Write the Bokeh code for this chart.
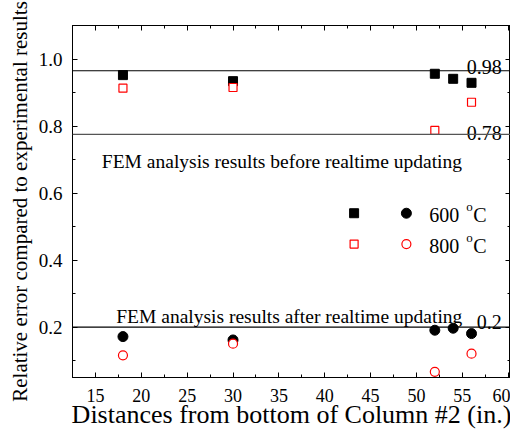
from bokeh.plotting import figure
from bokeh.models import Range1d, Span, LinearAxis, SingleIntervalTicker, PrintfTickFormatter, CustomJSTickFormatter
from bokeh.embed import file_html
from bokeh.resources import INLINE
from bokeh.core.properties import value

# Data
dist_sq600 = [18, 30, 52, 54, 56]
fem_before_600 = [0.952, 0.934, 0.956, 0.941, 0.929]
dist_sq800 = [18, 30, 52, 56]
fem_before_800 = [0.913, 0.915, 0.787, 0.871]
dist_c600 = [18, 30, 52, 54, 56]
fem_after_600 = [0.172, 0.162, 0.191, 0.197, 0.181]
dist_c800 = [18, 30, 52, 56]
fem_after_800 = [0.116, 0.151, 0.067, 0.121]

ref_lines = [0.965, 0.775, 0.2]
ref_labels = ["0.98", "0.78", "0.2"]
ref_label_y = [0.977, 0.78, 0.215]

x_title = "Distances from bottom of Column #2 (in.)"
y_title = "Relative error compared to experimental results"

FONT = "Liberation Serif"
AXFONT = "'Liberation Serif', serif"

p = figure(width=510, height=431, output_backend="svg", toolbar_location=None,
           x_range=Range1d(12.5, 60.25), y_range=Range1d(0.05, 1.1),
           min_border_left=72, min_border_right=0, min_border_top=25, min_border_bottom=53)
p.background_fill_color = "white"
p.border_fill_color = "white"
p.outline_line_color = "black"
p.outline_line_width = 1
p.xgrid.visible = False
p.ygrid.visible = False

def style_axis(ax):
    ax.axis_line_color = "black"
    ax.major_tick_in = 5
    ax.major_tick_out = 0
    ax.minor_tick_in = 3
    ax.minor_tick_out = 0
    ax.major_tick_line_color = "black"
    ax.minor_tick_line_color = "black"

xax = p.xaxis[0]
yax = p.yaxis[0]
xax.ticker = SingleIntervalTicker(interval=5, num_minor_ticks=2)
yax.ticker = SingleIntervalTicker(interval=0.2, num_minor_ticks=2)
style_axis(xax)
style_axis(yax)
for ax in (xax, yax):
    ax.major_label_text_font = AXFONT
    ax.major_label_text_color = "black"
    ax.axis_label_text_font = AXFONT
    ax.axis_label_text_font_style = "normal"
    ax.axis_label_text_color = "black"
xax.major_label_text_font_size = "18px"
yax.major_label_text_font_size = "19px"
yax.formatter = PrintfTickFormatter(format="%.1f")
xax.major_label_standoff = 11
yax.major_label_standoff = 10
xax.axis_label = x_title
yax.axis_label = y_title
xax.axis_label_text_font_size = "26px"
yax.axis_label_text_font_size = "21px"
xax.axis_label_standoff = -5
yax.axis_label_standoff = 4

blank = CustomJSTickFormatter(code="return '';")
top = LinearAxis(ticker=SingleIntervalTicker(interval=5, num_minor_ticks=2), formatter=blank,
                 major_label_standoff=0)
style_axis(top)
p.add_layout(top, "above")
right = LinearAxis(ticker=SingleIntervalTicker(interval=0.2, num_minor_ticks=2), formatter=blank,
                   major_label_standoff=0)
style_axis(right)
p.add_layout(right, "right")

# reference lines
for yv, col in zip(ref_lines, ["black", "#555555", "black"]):
    p.add_layout(Span(location=yv, dimension="width", line_color=col, line_width=1.2))

for lab, yv in zip(ref_labels, ref_label_y):
    p.text(x=[59.3], y=[yv], text=[lab], text_align="right", text_baseline="alphabetic",
           text_font=value(FONT), text_font_size="20px", text_color="black")

p.text(x=[15.7], y=[0.694], text=["FEM analysis results before realtime updating"],
       text_baseline="alphabetic", text_font=value(FONT), text_font_size="19.5px", text_color="black")
p.text(x=[17.27], y=[0.231], text=["FEM analysis results after realtime updating"],
       text_baseline="alphabetic", text_font=value(FONT), text_font_size="19.5px", text_color="black")

# data
p.scatter(dist_sq600, fem_before_600, marker="square", size=9, fill_color="black", line_color="black")
p.scatter(dist_sq800, fem_before_800, marker="square", size=8, fill_color="white", line_color="red", line_width=1.2)
p.scatter(dist_c600, fem_after_600, marker="circle", size=10, fill_color="black", line_color="black")
p.scatter(dist_c800, fem_after_800, marker="circle", size=9, fill_color="white", line_color="red", line_width=1.2)

# legend (layout positions)
leg_sq_x, leg_c_x, leg_t_x = 43.2, 48.9, 51.4
leg_rows = [0.540, 0.448]
p.scatter([leg_sq_x], [leg_rows[0]], marker="square", size=9, fill_color="black", line_color="black")
p.scatter([leg_c_x], [leg_rows[0]], marker="circle", size=10, fill_color="black", line_color="black")
p.scatter([leg_sq_x], [leg_rows[1]], marker="square", size=8, fill_color="white", line_color="red", line_width=1.2)
p.scatter([leg_c_x], [leg_rows[1]], marker="circle", size=9, fill_color="white", line_color="red", line_width=1.2)
for temp, yv in zip(["600", "800"], leg_rows):
    p.text(x=[leg_t_x], y=[yv], text=[temp], text_baseline="middle", text_font=value(FONT),
           text_font_size="20px", text_color="black", y_offset=2)
    p.text(x=[leg_t_x], y=[yv], text=["o"], text_baseline="middle", text_font=value(FONT),
           text_font_size="13px", text_color="black", x_offset=37, y_offset=-7)
    p.text(x=[leg_t_x], y=[yv], text=["C"], text_baseline="middle", text_font=value(FONT),
           text_font_size="20px", text_color="black", x_offset=44, y_offset=2)

open("out.html", "w").write(file_html(p, INLINE))
